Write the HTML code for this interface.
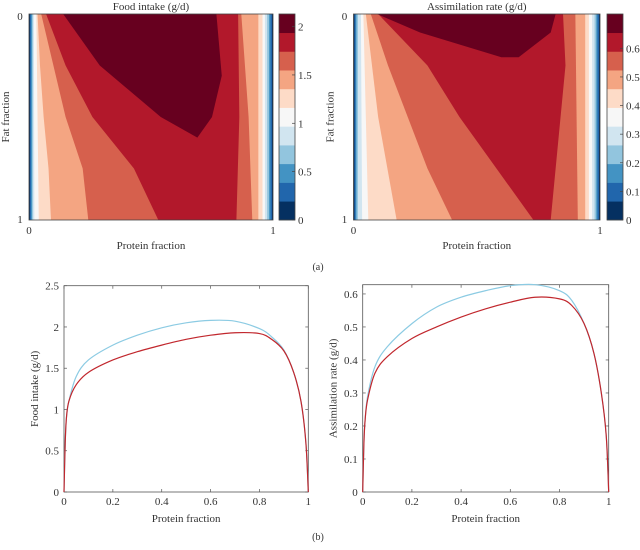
<!DOCTYPE html>
<html><head><meta charset="utf-8">
<style>
body{margin:0;background:#fff;}
svg text{font-family:"Liberation Serif",serif;fill:#333;}
</style></head>
<body>
<svg id="fig" width="640" height="545" viewBox="0 0 640 545" xmlns="http://www.w3.org/2000/svg">
</svg>
<script>
// ---- Data ----
const bandColors = ["#053061","#2166ac","#4393c3","#92c5de","#d1e5f0","#f7f7f7","#fddbc7","#f4a582","#d6604d","#b2182b","#67001f"];
// Food intake contour polygons [proteinFraction, fatFraction] for levels 1..10
const foodContours = [
 [[0.004,0],[0.996,0],[0.996,1],[0.004,1]],
 [[0.008,0],[0.99,0],[0.99,1],[0.008,1]],
 [[0.012,0],[0.984,0],[0.984,1],[0.012,1]],
 [[0.016,0],[0.976,0],[0.976,1],[0.016,1]],
 [[0.02,0],[0.967,0],[0.967,1],[0.022,1]],
 [[0.03,0],[0.957,0],[0.957,1],[0.04,1]],
 [[0.035,0],[0.94,0],[0.94,1],[0.09,1],[0.08,0.75],[0.06,0.5],[0.045,0.25]],
 [[0.05,0],[0.87,0],[0.9,0.5],[0.915,1],[0.243,1],[0.22,0.75],[0.15,0.5],[0.1,0.25]],
 [[0.07,0],[0.857,0],[0.862,0.5],[0.85,1],[0.53,1],[0.43,0.75],[0.26,0.5],[0.15,0.25]],
 [[0.14,0],[0.768,0],[0.79,0.3],[0.75,0.5],[0.69,0.6],[0.54,0.5],[0.29,0.25]]
];
const assimContours = [
 [[0.004,0],[0.996,0],[0.996,1],[0.004,1]],
 [[0.008,0],[0.99,0],[0.99,1],[0.008,1]],
 [[0.012,0],[0.985,0],[0.985,1],[0.012,1]],
 [[0.018,0],[0.978,0],[0.978,1],[0.018,1]],
 [[0.03,0],[0.968,0],[0.968,1],[0.035,1]],
 [[0.04,0],[0.955,0],[0.955,1],[0.06,1]],
 [[0.05,0],[0.94,0],[0.94,1],[0.175,1],[0.1,0.5]],
 [[0.07,0],[0.9,0],[0.91,1],[0.4,1],[0.3,0.75],[0.22,0.5],[0.14,0.25]],
 [[0.1,0],[0.85,0],[0.86,0.25],[0.84,0.5],[0.82,0.75],[0.8,1],[0.73,1],[0.58,0.75],[0.43,0.5],[0.3,0.25]],
 [[0.095,0],[0.82,0],[0.8,0.09],[0.67,0.21],[0.6,0.21],[0.27,0.09]]
];
const foodCbTicks = [0,0.5,1,1.5,2];
const assimCbTicks = [0,0.1,0.2,0.3,0.4,0.5,0.6];
const proteinX = [0,0.005,0.01,0.02,0.05,0.1,0.2,0.3,0.4,0.5,0.6,0.7,0.8,0.85,0.9,0.94,0.97,0.99,1];
const foodBlue = [0,0.6,0.9,1.1,1.4,1.6,1.78,1.9,1.99,2.05,2.08,2.07,1.98,1.88,1.72,1.45,1.1,0.6,0];
const foodRed  = [0,0.6,0.9,1.1,1.3,1.45,1.6,1.7,1.78,1.85,1.9,1.93,1.92,1.85,1.71,1.45,1.1,0.6,0];
const assimBlue = [0,0.15,0.22,0.29,0.38,0.44,0.51,0.56,0.59,0.61,0.625,0.628,0.61,0.58,0.51,0.42,0.3,0.17,0];
const assimRed  = [0,0.15,0.22,0.28,0.36,0.41,0.465,0.5,0.53,0.555,0.575,0.59,0.585,0.565,0.51,0.42,0.3,0.17,0];
const xTicks = [0,0.2,0.4,0.6,0.8,1];
const foodYTicks = [0,0.5,1,1.5,2,2.5];
const assimYTicks = [0,0.1,0.2,0.3,0.4,0.5,0.6];

const NS="http://www.w3.org/2000/svg";
const svg=document.getElementById('fig');
function el(tag,attrs,parent){const e=document.createElementNS(NS,tag);for(const k in attrs)e.setAttribute(k,attrs[k]);(parent||svg).appendChild(e);return e;}
function txt(s,x,y,size,anchor,parent,rot){const t=el('text',{x:x,y:y,'font-size':size,'text-anchor':anchor||'middle'},parent);if(rot)t.setAttribute('transform',rot);t.textContent=s;return t;}

function heatmap(name,x0,x1,y0,y1,contours,cbX,cbMax,cbTicks,title){
  const g=el('g',{});
  
  
  const sx=u=>x0+u*(x1-x0), sy=v=>y0+v*(y1-y0);
  const bg=el('rect',{x:x0,y:y0,width:x1-x0,height:y1-y0,fill:bandColors[0]},g);
  
  
  contours.forEach((poly,i)=>{
    const p=el('polygon',{points:poly.map(q=>sx(q[0])+','+sy(q[1])).join(' '),fill:bandColors[i+1]},g);
    
    
  });
  el('rect',{x:x0,y:y0,width:x1-x0,height:y1-y0,fill:'none',stroke:'#444','stroke-width':0.8},g);
  const t=txt(title,(x0+x1)/2,10,11,'middle',g);
  
  txt('0',x0-9,y0+6,11,'middle',g);
  txt('1',x0-9,y1+3,11,'middle',g);
  txt('0',x0,y1+14,11,'middle',g);
  txt('1',x1,y1+14,11,'middle',g);
  const xl=txt('Protein fraction',(x0+x1)/2,249,11,'middle',g);
  
  const yl=txt('Fat fraction',0,0,11,'middle',g,'translate('+(x0-20)+','+((y0+y1)/2)+') rotate(-90)');
  
  // colorbar
  const cb=el('g',{},g);
  
  
  const bh=(y1-y0)/bandColors.length;
  bandColors.forEach((c,i)=>{el('rect',{x:cbX,y:y1-(i+1)*bh,width:16,height:bh+0.3,fill:c},cb);});
  el('rect',{x:cbX,y:y0,width:16,height:y1-y0,fill:'none',stroke:'#444','stroke-width':0.8},cb);
  cbTicks.forEach(v=>{const y=y1-v/cbMax*(y1-y0);el('line',{x1:cbX+16,x2:cbX+13,y1:y,y2:y,stroke:'#444','stroke-width':0.7},cb);txt(String(v),cbX+19,y+4,11,'start',cb);});
}
heatmap('food-intake-heatmap',29,273,14,220,foodContours,279,2.13,foodCbTicks,'Food intake (g/d)');
heatmap('assimilation-heatmap',353.5,600,14,220,assimContours,607,0.72,assimCbTicks,'Assimilation rate (g/d)');
txt('(a)',318,270,10,'middle');

function lineChart(name,x0,x1,y0,y1,ymax,yTicks,series,ylabel){
  const g=el('g',{});
  
  
  const sx=u=>x0+u*(x1-x0), sy=v=>y1-v/ymax*(y1-y0);
  el('rect',{x:x0,y:y0,width:x1-x0,height:y1-y0,fill:'none',stroke:'#555','stroke-width':0.8},g);
  xTicks.forEach(v=>{const x=sx(v);el('line',{x1:x,x2:x,y1:y1,y2:y1-3,stroke:'#555','stroke-width':0.7},g);el('line',{x1:x,x2:x,y1:y0,y2:y0+3,stroke:'#555','stroke-width':0.7},g);txt(String(v),x,y1+13,11,'middle',g);});
  yTicks.forEach(v=>{const y=sy(v);el('line',{x1:x0,x2:x0+3,y1:y,y2:y,stroke:'#555','stroke-width':0.7},g);el('line',{x1:x1,x2:x1-3,y1:y,y2:y,stroke:'#555','stroke-width':0.7},g);txt(String(v),x0-5,y+4,11,'end',g);});
  const xl=txt('Protein fraction',(x0+x1)/2,522,11,'middle',g);
  
  const yl=txt(ylabel,0,0,11,'middle',g,'translate('+(x0-26)+','+((y0+y1)/2)+') rotate(-90)');
  
  series.forEach(s=>{
    const pts=proteinX.map((u,i)=>[sx(u),sy(s.vals[i])]);
    let d='M'+pts[0][0]+','+pts[0][1];
    for(let i=0;i<pts.length-1;i++){const p0=pts[Math.max(0,i-1)],p1=pts[i],p2=pts[i+1],p3=pts[Math.min(pts.length-1,i+2)];
      d+=' C'+(p1[0]+(p2[0]-p0[0])/6)+','+(p1[1]+(p2[1]-p0[1])/6)+' '+(p2[0]-(p3[0]-p1[0])/6)+','+(p2[1]-(p3[1]-p1[1])/6)+' '+p2[0]+','+p2[1];}
    const p=el('path',{d:d,fill:'none',stroke:s.color,'stroke-width':1.2},g);
    
    
  });
}
lineChart('food-intake-line-chart',64,308.3,285.7,492,2.5,foodYTicks,[{vals:foodBlue,color:'#8ccbe3',name:'food-blue-line'},{vals:foodRed,color:'#c1272d',name:'food-red-line'}],'Food intake (g/d)');
lineChart('assimilation-line-chart',362.7,608.7,284.7,492,0.628,assimYTicks,[{vals:assimBlue,color:'#8ccbe3',name:'assim-blue-line'},{vals:assimRed,color:'#c1272d',name:'assim-red-line'}],'Assimilation rate (g/d)');
txt('(b)',318,540,10,'middle');
</script>
</body></html>
